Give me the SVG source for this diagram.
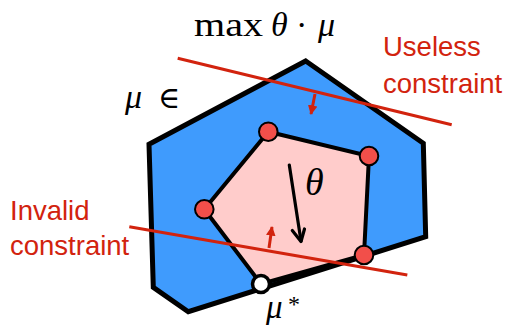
<svg xmlns="http://www.w3.org/2000/svg" width="506" height="326" viewBox="0 0 506 326">
<style>
.red{fill:#d2230e;font-family:"Liberation Sans",Arial,sans-serif;font-size:27.5px}
.math{font-family:"Liberation Serif","DejaVu Serif",serif;fill:#000}
.it{font-style:italic}
.cline{stroke:#d2230e;stroke-width:3;fill:none}
.vtx{fill:#f24f4a;stroke:#000;stroke-width:2}
</style>
<defs>
<marker id="rh" viewBox="0 0 10 10" refX="9" refY="5" markerWidth="3.2" markerHeight="3.2" orient="auto">
<path d="M0,0 L10,5 L0,10 z" fill="#d2230e"/>
</marker>
</defs>
<g id="outer"><polygon points="305.7,61 423.3,143.3 425.7,236.7 188.3,311.7 153.3,287.3 149,144.3" fill="#3f9bfd" stroke="#000" stroke-width="5" stroke-linejoin="miter"/></g>
<g id="inner"><polygon points="268.3,131.7 369,156 364,255 261,284 204.3,209.3" fill="#ffcccb" stroke="#000" stroke-width="4"/></g>
<g id="connectors">
<line class="cline" x1="177.7" y1="58.3" x2="451.7" y2="124.7"/>
<line class="cline" x1="315" y1="94" x2="311" y2="114" marker-end="url(#rh)"/>
<line class="cline" x1="129.3" y1="226.7" x2="407.3" y2="275"/>
<line class="cline" x1="269" y1="248" x2="272" y2="227" marker-end="url(#rh)"/>
<line x1="289.3" y1="165" x2="301" y2="241" stroke="#000" stroke-width="3.2" stroke-linecap="round"/>
<polyline points="292.3,230.5 301,241.5 304.5,229" fill="none" stroke="#000" stroke-width="3.2" stroke-linecap="round" stroke-linejoin="round"/>
</g>
<g id="vertices">
<circle class="vtx" cx="268.3" cy="131.7" r="9.3"/>
<circle class="vtx" cx="369" cy="156" r="9.3"/>
<circle class="vtx" cx="364" cy="255" r="9.3"/>
<circle class="vtx" cx="204.3" cy="209.3" r="9.3"/>
<circle cx="261" cy="284" r="8.5" fill="#fff" stroke="#000" stroke-width="3.5"/>
</g>
<g id="labels">
<text class="math" x="194" y="36" font-size="34" textLength="69" lengthAdjust="spacingAndGlyphs">max</text>
<text class="math it" x="271" y="36" font-size="34">θ</text>
<text class="math" x="296" y="36" font-size="34">·</text>
<text class="math it" x="318" y="36" font-size="34">μ</text>
<text class="math it" x="125" y="108" font-size="34">μ</text>
<text class="math" x="158" y="108" font-size="30">∈</text>
<text class="math it" x="305" y="195" font-size="38">θ</text>
<text class="math it" x="266" y="318" font-size="33">μ</text>
<text class="math" x="288" y="312" font-size="24">*</text>
<text class="red" x="383" y="56">Useless</text>
<text class="red" x="383" y="92.5">constraint</text>
<text class="red" x="10" y="220">Invalid</text>
<text class="red" x="10" y="255">constraint</text>
</g>
</svg>
